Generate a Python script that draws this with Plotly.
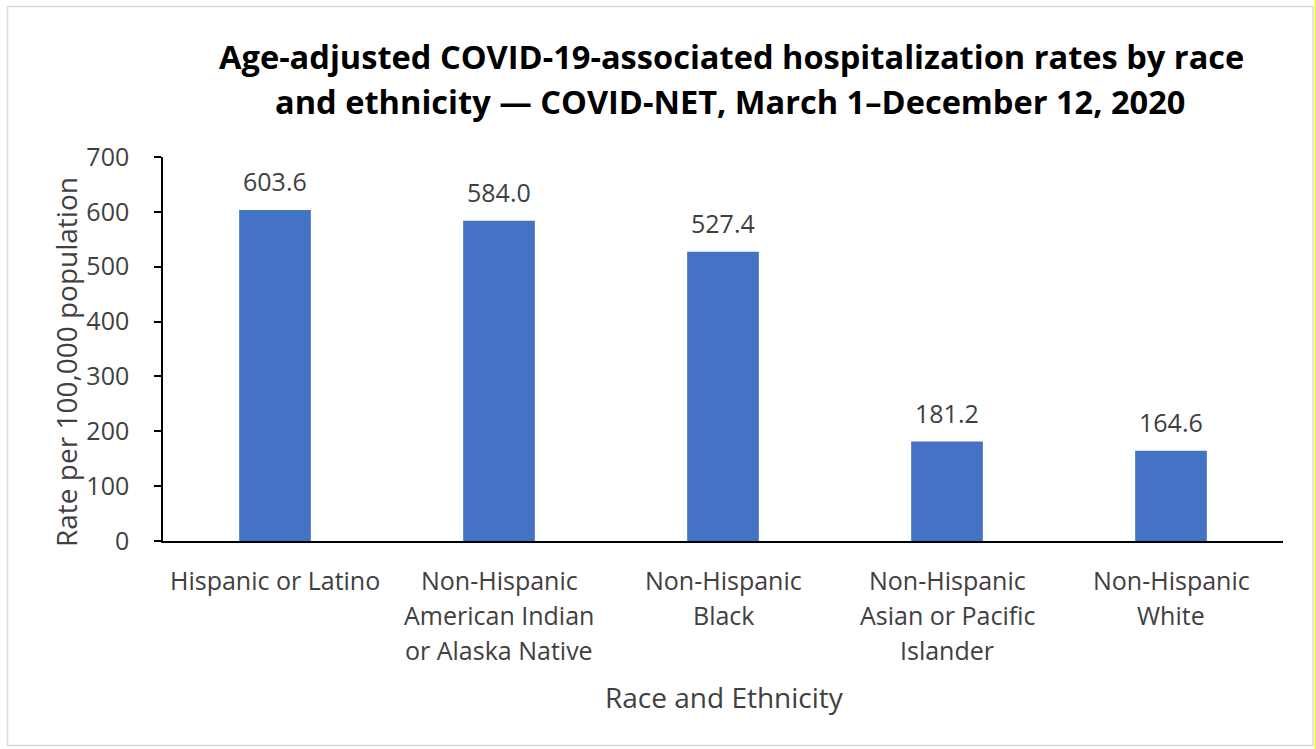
import plotly.graph_objects as go

categories = ["Hispanic or Latino",
              "Non-Hispanic American Indian or Alaska Native",
              "Non-Hispanic Black",
              "Non-Hispanic Asian or Pacific Islander",
              "Non-Hispanic White"]
label_lines = [["Hispanic or Latino"],
               ["Non-Hispanic", "American Indian", "or Alaska Native"],
               ["Non-Hispanic", "Black"],
               ["Non-Hispanic", "Asian or Pacific", "Islander"],
               ["Non-Hispanic", "White"]]
rates = [603.6, 584.0, 527.4, 181.2, 164.6]
value_labels = ["603.6", "584.0", "527.4", "181.2", "164.6"]
y_ticks = [0, 100, 200, 300, 400, 500, 600, 700]

W, H = 1316, 749
L, R, T, B = 163, 33, 157, 208
PW, PH = W - L - R, H - T - B


def px(x):
    return (x - L) / PW


def py(y):
    return (H - B - y) / PH


FONT = "Open Sans"
TXT = "#404040"

fig = go.Figure()
fig.add_trace(go.Bar(x=categories, y=rates, marker=dict(color="#4472C4", line=dict(width=0)),
                     hoverinfo="x+y"))

annotations = []
for c, v, t in zip(categories, rates, value_labels):
    annotations.append(dict(x=c, y=v, xref="x", yref="y", text=t, showarrow=False,
                            yanchor="middle", yshift=29,
                            font=dict(family=FONT, size=25, color=TXT)))
for c, lines in zip(categories, label_lines):
    for i, ln in enumerate(lines):
        annotations.append(dict(x=c, y=0, xref="x", yref="y", text=ln, showarrow=False,
                                yanchor="middle", yshift=-(39 + 35 * i),
                                font=dict(family=FONT, size=25, color=TXT)))
annotations.append(dict(x=px(724), y=py(697), xref="paper", yref="paper",
                        text="Race and Ethnicity", showarrow=False, yanchor="middle",
                        font=dict(family=FONT, size=28, color=TXT)))
annotations.append(dict(x=px(66), y=py(362), xref="paper", yref="paper",
                        text="Rate per 100,000 population", showarrow=False, textangle=-90,
                        xanchor="center", yanchor="middle",
                        font=dict(family=FONT, size=28, color=TXT)))
annotations.append(dict(x=px(731), y=py(57), xref="paper", yref="paper",
                        text="<b>Age-adjusted COVID-19-associated hospitalization rates by race</b>",
                        showarrow=False, yanchor="middle",
                        font=dict(family=FONT, size=32.6, color="#000000")))
annotations.append(dict(x=px(730), y=py(102), xref="paper", yref="paper",
                        text="<b>and ethnicity — COVID-NET, March 1–December 12, 2020</b>",
                        showarrow=False, yanchor="middle",
                        font=dict(family=FONT, size=32.6, color="#000000")))

fig.update_layout(
    width=W, height=H,
    margin=dict(l=L, r=R, t=T, b=B),
    paper_bgcolor="white", plot_bgcolor="white",
    bargap=0.68,
    showlegend=False,
    annotations=annotations,
    shapes=[
        dict(type="rect", xref="paper", yref="paper",
             x0=px(7.5), x1=px(1313), y0=py(745.5), y1=py(6.5),
             line=dict(color="#d9d9d9", width=1.5), fillcolor="rgba(0,0,0,0)", layer="below"),
        dict(type="line", xref="paper", yref="paper",
             x0=px(1315.5), x1=px(1315.5), y0=py(749), y1=py(0),
             line=dict(color="#f2f200", width=1.5), layer="below"),
    ],
)
fig.update_xaxes(showticklabels=False, ticks="", showline=True, linecolor="#000000",
                 linewidth=1.5, showgrid=False, zeroline=False)
fig.update_yaxes(range=[0, 700], tickvals=y_ticks, ticks="outside", ticklen=7,
                 tickcolor="#000000", tickwidth=1.5, showline=True, linecolor="#000000",
                 linewidth=1.5, showgrid=False, zeroline=False, ticklabelstandoff=20,
                 tickfont=dict(family=FONT, size=25, color=TXT))

fig.write_html("out.html", config={"displayModeBar": False},
               post_script="document.body.style.margin='0px';")
